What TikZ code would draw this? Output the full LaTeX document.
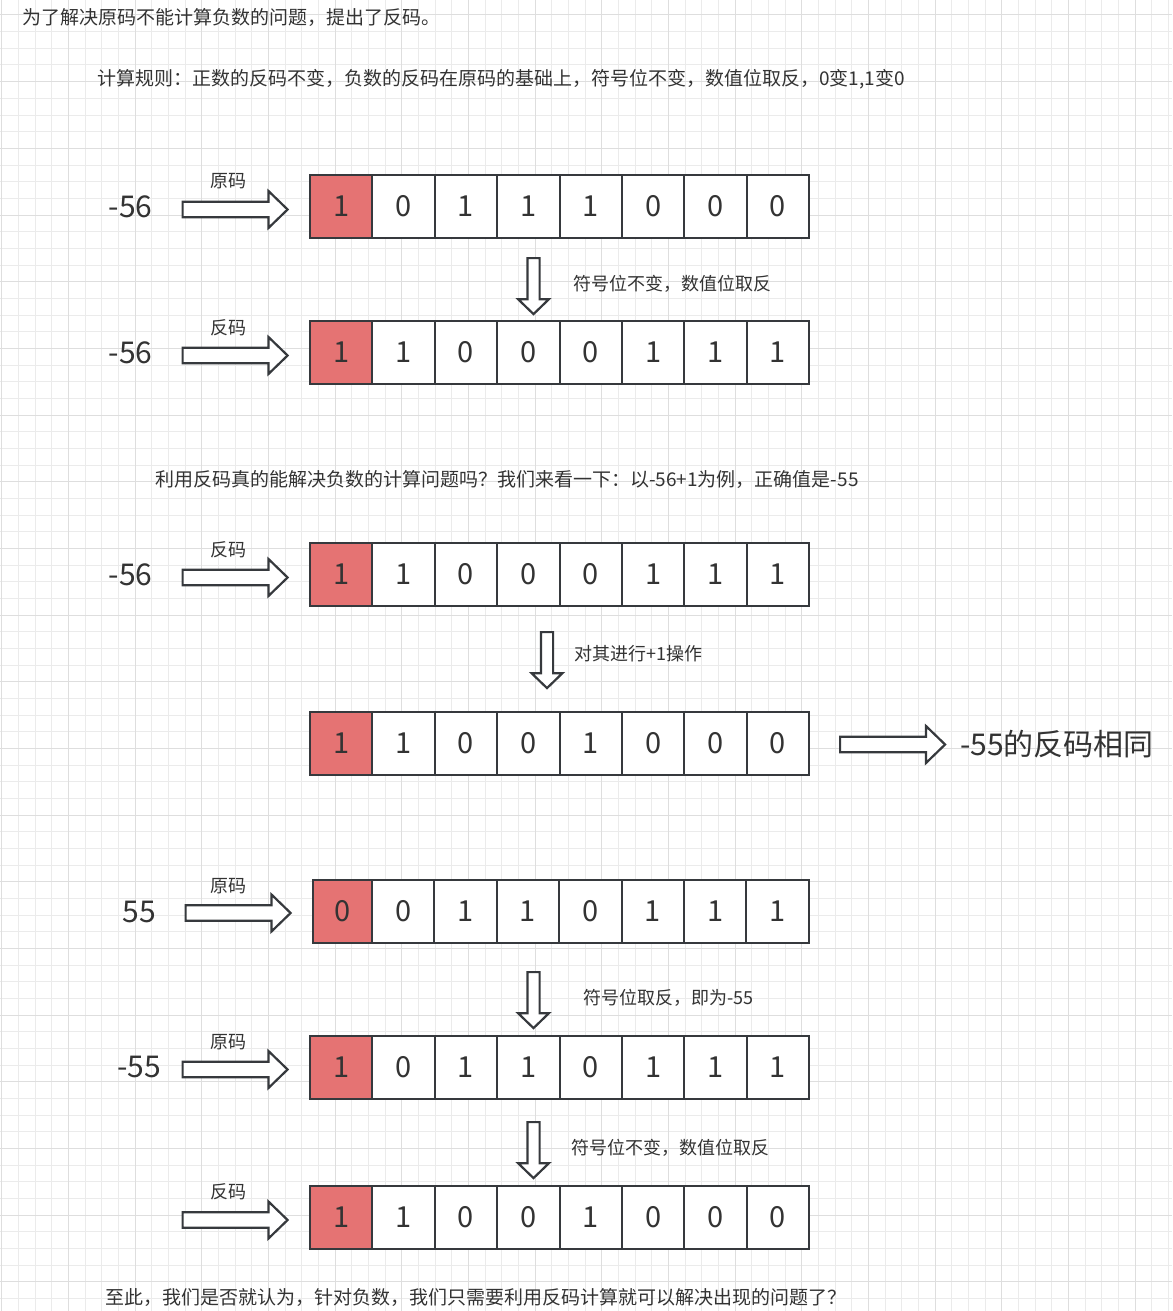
\documentclass[tikz,border=0pt]{standalone}
\usepackage{fontspec}
\setmainfont{Noto Sans CJK SC}
\usetikzlibrary{positioning,shapes.arrows}

\definecolor{cellline}{HTML}{36393D}
\definecolor{signred}{HTML}{E57373}
\definecolor{txt}{HTML}{333333}
\definecolor{gridminor}{HTML}{EBEBEB}
\definecolor{gridmajor}{HTML}{DEDEDE}

% one register: sign cell first, then the seven value bits to its right
\newcommand\bitrow[5][]{%
	\node [signcell, #1] (#2c1) at #3 {#4};
	\foreach \b [count=\i from 2, remember=\i as \j (initially 1)] in {#5}
		\node [bitcell, right=0pt of #2c\j] (#2c\i) {\b};
}

\begin{document}
\begin{tikzpicture}
			[
				x                = 1pt,
				y                = -1pt,
				bitcell/.style   = {draw=cellline, line width=2pt, fill=white, text=txt,
				                    minimum width=62.4pt, minimum height=63pt,
				                    inner sep=0pt, outer sep=0pt,
				                    font=\fontsize{29}{29}\selectfont},
				signcell/.style  = {bitcell, fill=signred},
				fatarrow/.style  = {single arrow, anchor=tail, draw=cellline, line width=2.2pt, fill=white,
				                    inner xsep=0pt, inner ysep=6.7pt, minimum height=105pt,
				                    single arrow head extend=10.6pt, single arrow tip angle=88},
				downarrow/.style = {fatarrow, rotate=-90, inner ysep=5pt, minimum height=56pt,
				                    single arrow head extend=9.3pt, single arrow tip angle=92},
				note/.style      = {anchor=west, inner sep=0pt, text=txt, font=\fontsize{19}{19}\selectfont},
				step label/.style= {note, font=\fontsize{18}{18}\selectfont},
				kind/.style      = {inner sep=0pt, text=txt, font=\fontsize{18}{18}\selectfont},
				value/.style     = {inner sep=0pt, text=txt, font=\fontsize{30}{30}\selectfont}
			]
			\useasboundingbox (0,0) rectangle (1172,1311);
			\fill[white] (0,0) rectangle (1172,1311);
			% canvas grid
			\foreach \g in {0,...,70}
				\draw[gridminor, line width=1pt] ({1.7+16.667*\g},0) -- ({1.7+16.667*\g},1311);
			\foreach \g in {0,...,78}
				\draw[gridminor, line width=1pt] (0,{15+16.667*\g}) -- (1172,{15+16.667*\g});
			\foreach \g in {0,...,17}
				\draw[gridmajor, line width=1pt] ({1.7+66.667*\g},0) -- ({1.7+66.667*\g},1311);
			\foreach \g in {0,...,19}
				\draw[gridmajor, line width=1pt] (0,{15+66.667*\g}) -- (1172,{15+66.667*\g});

			\node [note] (intro) at (22,17) {为了解决原码不能计算负数的问题，提出了反码。};
			\node [note] (rule) at (97,79) {计算规则：正数的反码不变，负数的反码在原码的基础上，符号位不变，数值位取反，0变1,1变0};

			% -56: true form -> ones' complement
			\node [value] (n1) at (130.5,207) {-56};
			\node [fatarrow] (a1) at (181.5,209.5) {};
			\node [kind] (k1) at (228,181.5) {原码};
			\bitrow{r1}{(341.2,206.5)}{1}{0,1,1,1,0,0,0}
			\node [downarrow] (d1) at (533.5,257) {};
			\node [step label] (s1) at (573,284) {符号位不变，数值位取反};
			\node [value] (n2) at (130.5,353) {-56};
			\node [fatarrow] (a2) at (181.5,355.5) {};
			\node [kind] (k2) at (228,327.5) {反码};
			\bitrow{r2}{(341.2,352.5)}{1}{1,0,0,0,1,1,1}

			\node [note] (ask) at (155,479) {利用反码真的能解决负数的计算问题吗？我们来看一下：以-56+1为例，正确值是-55};

			% -56 + 1
			\node [value] (n3) at (130.5,575) {-56};
			\node [fatarrow] (a3) at (181.5,577.5) {};
			\node [kind] (k3) at (228,549.5) {反码};
			\bitrow{r3}{(341.2,574.5)}{1}{1,0,0,0,1,1,1}
			\node [downarrow] (d2) at (547,631) {};
			\node [step label] (s2) at (574,654) {对其进行+1操作};
			\bitrow{r4}{(341.2,743.5)}{1}{1,0,0,1,0,0,0}
			\node [fatarrow] (a4) at (839,744.5) {};
			\node [value, anchor=west] (same) at (960,744) {-55的反码相同};

			% 55 -> -55 -> ones' complement
			\node [value] (n5) at (139,912) {55};
			\node [fatarrow] (a5) at (184.5,913) {};
			\node [kind] (k5) at (228,886.5) {原码};
			\bitrow[minimum width=59pt]{r5}{(342.5,911.5)}{0}{0,1,1,0,1,1,1}
			\node [downarrow] (d3) at (533.5,971) {};
			\node [step label] (s3) at (583,998) {符号位取反，即为-55};
			\node [value] (n6) at (139,1067) {-55};
			\node [fatarrow] (a6) at (181.5,1069.5) {};
			\node [kind] (k6) at (228,1042.5) {原码};
			\bitrow{r6}{(341.2,1067.5)}{1}{0,1,1,0,1,1,1}
			\node [downarrow] (d4) at (533.5,1121) {};
			\node [step label] (s4) at (571,1148) {符号位不变，数值位取反};
			\node [fatarrow] (a7) at (181.5,1220) {};
			\node [kind] (k7) at (228,1192) {反码};
			\bitrow{r7}{(341.2,1217.5)}{1}{1,0,0,1,0,0,0}

			\node [note] (outro) at (105,1297) {至此，我们是否就认为，针对负数，我们只需要利用反码计算就可以解决出现的问题了？};
\end{tikzpicture}
\end{document}
